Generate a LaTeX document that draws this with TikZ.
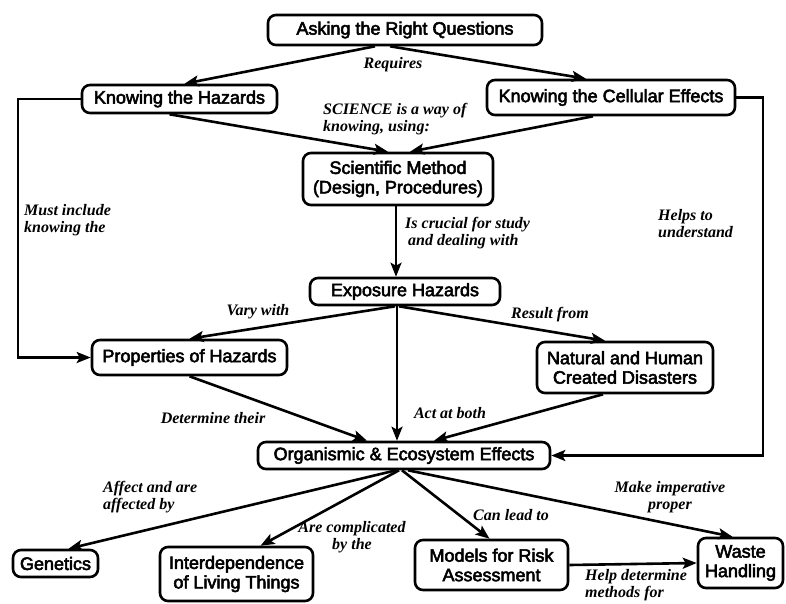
\documentclass[tikz,border=0pt]{standalone}
\usepackage{fontspec}
\setmainfont{Liberation Sans}[FakeBold=3]
\newfontfamily\labfont{Liberation Serif}
\usetikzlibrary{arrows.meta,calc}
\begin{document}
\begin{tikzpicture}[x=1pt,y=-1pt,
  box/.style={draw=black,line width=2.6pt,rounded corners=8pt,align=center,
    font=\fontsize{18}{19.5}\selectfont,inner sep=1pt},
  lab/.style={font=\labfont\bfseries\itshape\fontsize{16}{17}\selectfont,inner sep=0pt},
  conn/.style={line width=2.6pt,-{Stealth[length=14pt,width=11pt,inset=3pt]}},
  plain/.style={line width=2.6pt}]
\useasboundingbox (0,0) rectangle (786,603);
% boxes
\node[box,minimum width=274pt,minimum height=30pt] (ask) at (405,30) {Asking the Right Questions};
\node[box,minimum width=195pt,minimum height=28pt] (haz) at (179.5,99) {Knowing the Hazards};
\node[box,minimum width=248pt,minimum height=35pt] (cell) at (611,97.5) {Knowing the Cellular Effects};
\node[box,minimum width=190pt,minimum height=52pt] (sci) at (398,179) {Scientific Method\\(Design, Procedures)};
\node[box,minimum width=190pt,minimum height=27pt] (exp) at (405,291.5) {Exposure Hazards};
\node[box,minimum width=195pt,minimum height=35pt] (prop) at (189.5,357.5) {Properties of Hazards};
\node[box,minimum width=176pt,minimum height=51pt] (nat) at (625,367.5) {Natural and Human\\Created Disasters};
\node[box,minimum width=292pt,minimum height=27pt] (org) at (404,455.5) {Organismic \& Ecosystem Effects};
\node[box,minimum width=85pt,minimum height=27pt] (gen) at (55.5,563.5) {Genetics};
\node[box,minimum width=153pt,minimum height=54pt] (inter) at (236.5,574) {Interdependence\\of Living Things};
\node[box,minimum width=153pt,minimum height=50pt] (mod) at (491.5,565) {Models for Risk\\Assessment};
\node[box,minimum width=85pt,minimum height=50pt] (waste) at (740.5,563) {Waste\\Handling};
% corner coordinates
\coordinate (lb) at (18,357.5);
\coordinate (rb) at (763,455.5);
% connectors
\draw[conn] ([xshift=-30pt]ask.south) -- ([xshift=5pt]haz.north);
\draw[conn] ([xshift=-15pt]ask.south) -- ([xshift=-25pt]cell.north);
\draw[conn] ([xshift=-10pt]haz.south) -- ([xshift=-10pt]sci.north);
\draw[conn] ([xshift=-18pt]cell.south) -- ([xshift=12pt]sci.north);
\draw[conn] (haz.west) -| (lb) -- (prop.west);
\draw[conn] (cell.east) -| (rb) -- (org.east);
\draw[conn] ([xshift=-2pt]sci.south) -- ([xshift=-9pt]exp.north);
\draw[conn] ([xshift=-10pt]exp.south) -- (prop.north);
\draw[conn] ([xshift=-6pt]exp.south) -- ([xshift=-20pt]nat.north);
\draw[conn] ([xshift=-8pt]exp.south) -- ([xshift=-7pt]org.north);
\draw[conn] (prop.south) -- ([xshift=-37pt]org.north);
\draw[conn] ([xshift=-22pt]nat.south) -- ([xshift=30pt]org.north);
\draw[conn] ([xshift=-8pt]org.south) -- ([xshift=13pt]gen.north);
\draw[conn] ([xshift=-5pt]org.south) -- ([xshift=24pt]inter.north);
\draw[conn] ([xshift=-2pt]org.south) -- ([xshift=-2pt]mod.north);
\draw[conn] ([xshift=4pt]org.south) -- ([xshift=-8pt]waste.north);
\draw[conn] (mod.east) -- (waste.west);
% labels
\node[lab] (l1) at (393,65) {Requires};
\node[lab,anchor=west,align=left] (l2) at (323,119) {SCIENCE is a way of\\knowing, using:};
\node[lab,anchor=west,align=left] (l3) at (24,220) {Must include\\knowing the};
\node[lab,anchor=west,align=left] (l4) at (658,224) {Helps to\\understand};
\node[lab,anchor=west,align=left] (l5) at (405,233) {Is crucial for study\\\hspace*{3pt}and dealing with};
\node[lab] (l6) at (258,312) {Vary with};
\node[lab] (l7) at (550,315) {Result from};
\node[lab] (l8) at (213,418) {Determine their};
\node[lab] (l9) at (450,413) {Act at both};
\node[lab,anchor=west,align=left] (l10) at (103,497) {Affect and are\\affected by};
\node[lab,align=center] (l11) at (352,537) {Are complicated\\by the};
\node[lab] (l12) at (511,515) {Can lead to};
\node[lab,align=center] (l13) at (670,497) {Make imperative\\proper};
\node[lab,anchor=west,align=left] (l14) at (585,585) {Help determine\\methods for};
\end{tikzpicture}
\end{document}
